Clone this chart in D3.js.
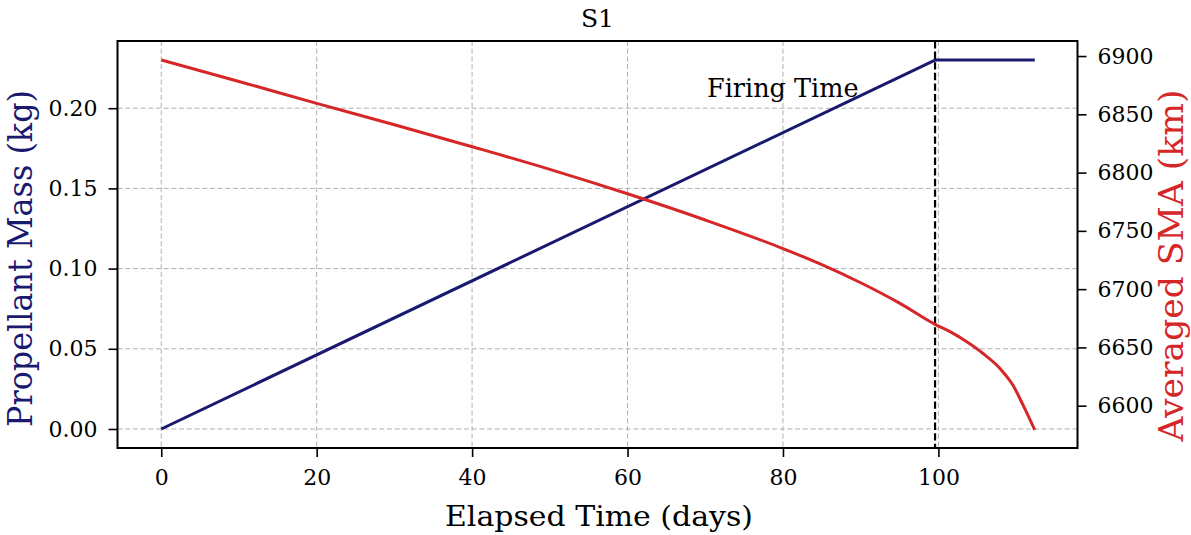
<!DOCTYPE html>
<html>
<head>
<meta charset="utf-8">
<script src="https://cdn.jsdelivr.net/npm/d3@7"></script>
<style>
  html, body { margin: 0; padding: 0; background: #fff; }
  svg { display: block; }
  text { font-family: "DejaVu Serif", "Liberation Serif", serif; fill: #000; }
</style>
</head>
<body>
<svg id="chart" width="1191" height="535"></svg>
<script>
// Propellant consumption for satellite S1 (left axis)
const massDays = [0, 99.57, 112.4];
const massKg   = [0, 0.230, 0.230];

// Averaged semi-major axis decay (right axis)
const smaDays = [0, 10, 20, 30, 40, 50, 60, 70, 80, 85, 90, 95, 99.57, 101.5, 103.6, 105.7, 107.9, 109.6, 110.9, 112.4];
const smaKm   = [6896.6, 6878.2, 6859.4, 6841.0, 6822.2, 6802.8, 6781.8, 6759.3, 6734.8, 6721.0, 6705.5, 6688.0, 6669.8,
                 6663.5, 6655.0, 6645.0, 6632.1, 6617.5, 6600.5, 6579.2];

// End of the thruster firing period
const firingEnd = 99.57;

// Tick values
const xTicks     = [0, 20, 40, 60, 80, 100];
const massTicks  = [0, 0.05, 0.10, 0.15, 0.20];
const smaTicks   = [6600, 6650, 6700, 6750, 6800, 6850, 6900];

const blue = "#191970";
const red  = "#d62728";

const svg = d3.select("#chart");
const L = 117.5, R = 1077.5, T = 41, B = 448;

const x  = d3.scaleLinear().domain([-5.63, 117.9]).range([L, R]);
const yM = d3.scaleLinear().domain([-0.01185, 0.2419]).range([B, T]);
const yS = d3.scaleLinear().domain([6563.7, 6912.9]).range([B, T]);

// grid (bottom and left axes)
const grid = svg.append("g").attr("stroke", "#b0b0b0").attr("stroke-width", 1)
  .attr("stroke-dasharray", "5,2.7").attr("fill", "none");
grid.selectAll("line.v").data(xTicks).join("line")
  .attr("x1", d => x(d)).attr("x2", d => x(d)).attr("y1", T).attr("y2", B);
grid.selectAll("line.h").data(massTicks).join("line")
  .attr("y1", d => yM(d)).attr("y2", d => yM(d)).attr("x1", L).attr("x2", R);

// propellant mass line
const massData = massDays.map((d, i) => [d, massKg[i]]);
svg.append("path").datum(massData)
  .attr("fill", "none").attr("stroke", blue).attr("stroke-width", 3)
  .attr("stroke-linejoin", "round")
  .attr("d", d3.line().x(d => x(d[0])).y(d => yM(d[1])));

// firing end marker
svg.append("line")
  .attr("x1", x(firingEnd)).attr("x2", x(firingEnd)).attr("y1", T).attr("y2", B)
  .attr("stroke", "#000").attr("stroke-width", 2.2).attr("stroke-dasharray", "7.4,3.2");

svg.append("text")
  .attr("x", 707).attr("y", 97)
  .attr("font-size", 25.5)
  .text("Firing Time");

// averaged SMA line
const smaData = smaDays.map((d, i) => [d, smaKm[i]]);
svg.append("path").datum(smaData)
  .attr("fill", "none").attr("stroke", red).attr("stroke-width", 3)
  .attr("stroke-linejoin", "round")
  .attr("d", d3.line().curve(d3.curveMonotoneX).x(d => x(d[0])).y(d => yS(d[1])));

// axes
function styleAxis(g) {
  g.select(".domain").remove();
  g.selectAll(".tick line").attr("stroke", "#000").attr("stroke-width", 1.6);
  g.selectAll(".tick text").attr("font-size", 22).attr("fill", "#000")
    .attr("font-family", "DejaVu Serif, Liberation Serif, serif");
}

svg.append("g").attr("transform", `translate(0,${B})`)
  .call(d3.axisBottom(x).tickValues(xTicks).tickFormat(d3.format("d")).tickSize(9).tickPadding(12))
  .call(styleAxis);

svg.append("g").attr("transform", `translate(${L},0)`)
  .call(d3.axisLeft(yM).tickValues(massTicks).tickFormat(d3.format(".2f")).tickSize(9).tickPadding(11))
  .call(styleAxis);

svg.append("g").attr("transform", `translate(${R},0)`)
  .call(d3.axisRight(yS).tickValues(smaTicks).tickFormat(d3.format("d")).tickSize(9).tickPadding(11))
  .call(styleAxis);

// frame
svg.append("rect").attr("x", L).attr("y", T).attr("width", R - L).attr("height", B - T)
  .attr("fill", "none").attr("stroke", "#000").attr("stroke-width", 2);

// title and labels
svg.append("text").attr("x", (L + R) / 2).attr("y", 27)
  .attr("text-anchor", "middle").attr("font-size", 25).text("S1");

svg.append("text").attr("x", 599).attr("y", 526)
  .attr("text-anchor", "middle").attr("font-size", 28)
  .attr("textLength", 308).attr("lengthAdjust", "spacingAndGlyphs")
  .text("Elapsed Time (days)");

svg.append("text")
  .attr("transform", "translate(32,258.5) rotate(-90)")
  .attr("text-anchor", "middle").attr("font-size", 34).style("fill", blue)
  .attr("textLength", 337).attr("lengthAdjust", "spacingAndGlyphs")
  .text("Propellant Mass (kg)");

svg.append("text")
  .attr("transform", "translate(1183,265.5) rotate(-90)")
  .attr("text-anchor", "middle").attr("font-size", 33).style("fill", red)
  .attr("textLength", 352).attr("lengthAdjust", "spacingAndGlyphs")
  .text("Averaged SMA (km)");
</script>
</body>
</html>
